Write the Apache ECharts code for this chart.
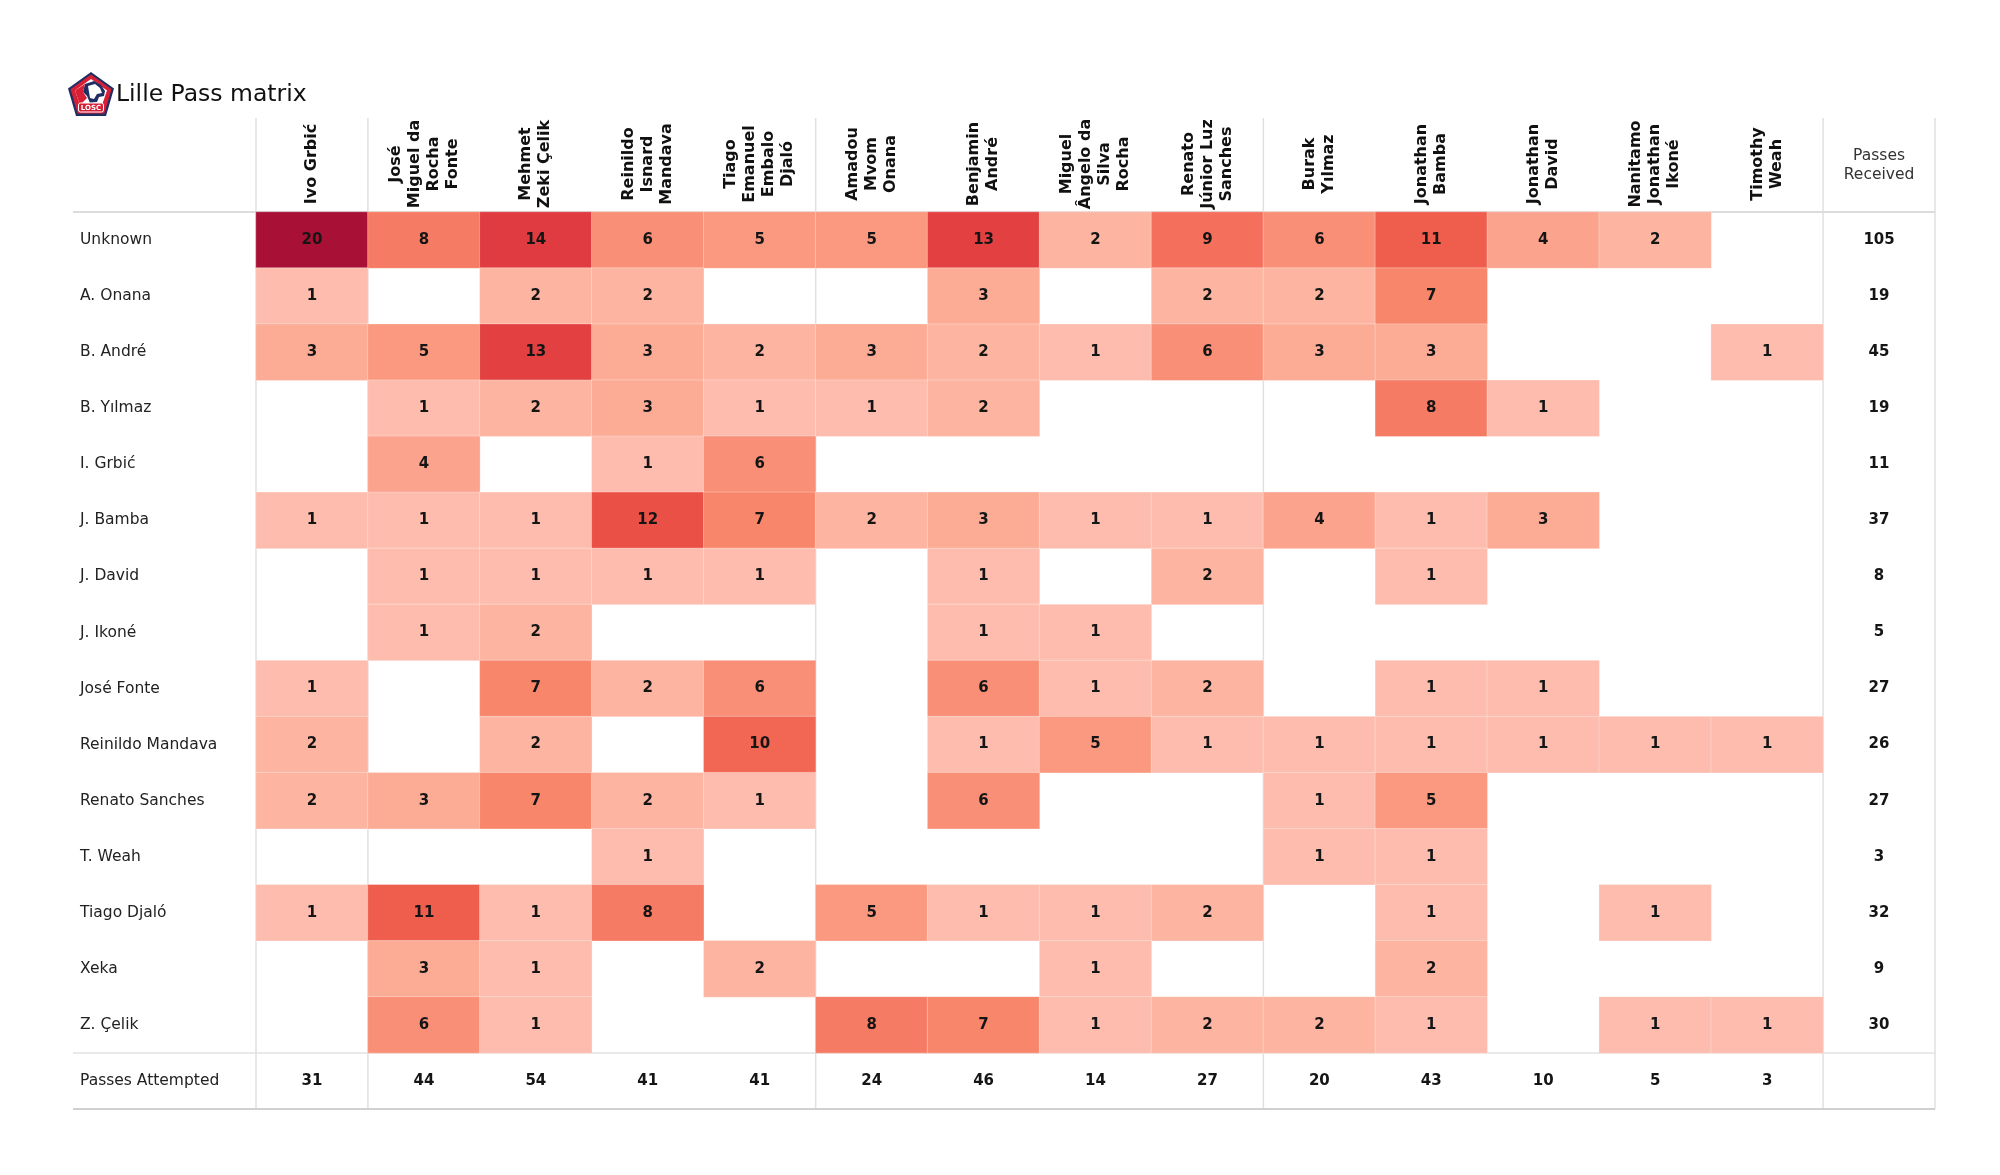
<!DOCTYPE html>
<html>
<head>
<meta charset="utf-8">
<script src="https://cdn.jsdelivr.net/npm/echarts@6/dist/echarts.min.js"></script>
<style>
html,body{margin:0;padding:0;background:#ffffff;}
#chart{width:2000px;height:1175px;}
</style>
</head>
<body>
<div id="chart"></div>
<script>
// ---------------- DATA ----------------
const chartTitle = 'Lille Pass matrix';

// rows (passer)
const passers = ['Unknown','A. Onana','B. André','B. Yılmaz','I. Grbić','J. Bamba','J. David','J. Ikoné',
  'José Fonte','Reinildo Mandava','Renato Sanches','T. Weah','Tiago Djaló','Xeka','Z. Çelik'];
const footerLabel = 'Passes Attempted';

// columns (receiver)
const receivers = ['Ivo Grbić','José\nMiguel da\nRocha\nFonte','Mehmet\nZeki Çelik','Reinildo\nIsnard\nMandava',
  'Tiago\nEmanuel\nEmbalo\nDjaló','Amadou\nMvom\nOnana','Benjamin\nAndré','Miguel\nÂngelo da\nSilva\nRocha',
  'Renato\nJúnior Luz\nSanches','Burak\nYılmaz','Jonathan\nBamba','Jonathan\nDavid','Nanitamo\nJonathan\nIkoné',
  'Timothy\nWeah'];
const totalHeader = 'Passes\nReceived';

// pass counts: row = passer, column = receiver (0 = empty cell)
const passCounts = [
  [20, 8,14, 6, 5, 5,13, 2, 9, 6,11, 4, 2, 0],
  [ 1, 0, 2, 2, 0, 0, 3, 0, 2, 2, 7, 0, 0, 0],
  [ 3, 5,13, 3, 2, 3, 2, 1, 6, 3, 3, 0, 0, 1],
  [ 0, 1, 2, 3, 1, 1, 2, 0, 0, 0, 8, 1, 0, 0],
  [ 0, 4, 0, 1, 6, 0, 0, 0, 0, 0, 0, 0, 0, 0],
  [ 1, 1, 1,12, 7, 2, 3, 1, 1, 4, 1, 3, 0, 0],
  [ 0, 1, 1, 1, 1, 0, 1, 0, 2, 0, 1, 0, 0, 0],
  [ 0, 1, 2, 0, 0, 0, 1, 1, 0, 0, 0, 0, 0, 0],
  [ 1, 0, 7, 2, 6, 0, 6, 1, 2, 0, 1, 1, 0, 0],
  [ 2, 0, 2, 0,10, 0, 1, 5, 1, 1, 1, 1, 1, 1],
  [ 2, 3, 7, 2, 1, 0, 6, 0, 0, 1, 5, 0, 0, 0],
  [ 0, 0, 0, 1, 0, 0, 0, 0, 0, 1, 1, 0, 0, 0],
  [ 1,11, 1, 8, 0, 5, 1, 1, 2, 0, 1, 0, 1, 0],
  [ 0, 3, 1, 0, 2, 0, 0, 1, 0, 0, 2, 0, 0, 0],
  [ 0, 6, 1, 0, 0, 8, 7, 1, 2, 2, 1, 0, 1, 1]
];
const passesReceived  = [105,19,45,19,11,37,8,5,27,26,27,3,32,9,30];
const passesAttempted = [31,44,54,41,41,24,46,14,27,20,43,10,5,3];

// colour ramp for values 1..20
const cellColors = ['#fdbcad','#fdb4a0','#fcab95','#fca38d','#fa997f','#f98f77','#f7866b','#f67b64','#f46f5c','#f26753',
  '#ef5d4d','#eb5047','#e34141','#e03b40','#d5323f','#ca293d','#be213b','#b41a39','#ae1537','#a91035'];

// ---------------- LAYOUT ----------------
const W = 2000, H = 1175;
const G = {left:256, top:212, right:65, bottom:66};
const nCols = receivers.length + 1, nRows = passers.length + 1;
const cellW = (W - G.left - G.right) / nCols;
const cellH = (H - G.top - G.bottom) / nRows;
const tableLeft = 73, headerTop = 118;
const FONT = 'DejaVu Sans';

const xCats = receivers.concat([totalHeader]);
const yCats = passers.concat([footerLabel]);

const cellData = [];
passCounts.forEach((row, i) => row.forEach((v, j) => { if (v > 0) cellData.push([j, i, v]); }));
const totalData = [];
passesReceived.forEach((v, i) => totalData.push([receivers.length, i, v]));
passesAttempted.forEach((v, j) => totalData.push([j, passers.length, v]));

// divider lines
const lineColor = '#e0e0e0';
const graphics = [];
const gx = k => G.left + k * cellW;
const gy = k => G.top + k * cellH;
[0, 1, 5, 9, 14, 15].forEach(k => graphics.push({
  type:'line', z:0, silent:true,
  shape:{x1:gx(k), y1:headerTop, x2:gx(k), y2:gy(nRows)},
  style:{stroke:lineColor, lineWidth:1.5}
}));
graphics.push({type:'line', z:0, silent:true, shape:{x1:tableLeft, y1:gy(0), x2:gx(nCols), y2:gy(0)}, style:{stroke:'#dcdcdc', lineWidth:2}});
graphics.push({type:'line', z:0, silent:true, shape:{x1:tableLeft, y1:gy(nRows-1), x2:gx(nCols), y2:gy(nRows-1)}, style:{stroke:'#e2e2e2', lineWidth:1.5}});
graphics.push({type:'line', z:0, silent:true, shape:{x1:tableLeft, y1:gy(nRows), x2:gx(nCols), y2:gy(nRows)}, style:{stroke:'#d0d0d0', lineWidth:2}});

// logo (LOSC-like badge)
graphics.push({
  type:'group', x:68, y:72, silent:true,
  children:[
    {type:'polygon', shape:{points:[[23,0],[46,16.5],[38,44],[8,44],[0,16.5]]}, style:{fill:'#1f2f63'}},
    {type:'polygon', shape:{points:[[23,2.5],[43.5,17.3],[36.3,41.5],[9.7,41.5],[2.5,17.3]]}, style:{fill:'#d71f35'}},
    {type:'polygon', shape:{points:[[23,7],[39,18.5],[34,33],[12,33],[7,18.5]]}, style:{fill:'#ffffff'}},
    {type:'polygon', shape:{points:[[17,12],[26,9],[33,13],[37,19],[36,24],[31,25],[29,30],[22,31],[19,24],[15,20]]}, style:{fill:'#1f2f63'}},
    {type:'polygon', shape:{points:[[20,14],[27,12],[32,16],[34,21],[29,22],[26,27],[22,26],[21,20]]}, style:{fill:'#ffffff'}},
    {type:'polygon', shape:{points:[[7,18.5],[17,12],[15,20],[19,26],[12,33]]}, style:{fill:'#d71f35'}},
    {type:'rect', shape:{x:10.5, y:31, width:25, height:9, r:2}, style:{fill:'#d71f35', stroke:'#ffffff', lineWidth:1}},
    {type:'text', style:{x:23, y:35.7, text:'LOSC', fill:'#ffffff', font:'bold 7px DejaVu Sans', align:'center', verticalAlign:'middle'}}
  ]
});

// ---------------- CHART ----------------
const chart = echarts.init(document.getElementById('chart'), null, {renderer:'canvas', width:W, height:H});
chart.setOption({
  backgroundColor:'#ffffff',
  animation:false,
  textStyle:{fontFamily:FONT},
  title:{
    text:chartTitle, left:116, top:80, padding:0, itemGap:0,
    textStyle:{fontFamily:FONT, fontSize:23.5, fontWeight:'normal', color:'#111111', lineHeight:30}
  },
  grid:{left:G.left, top:G.top, right:G.right, bottom:G.bottom, containLabel:false, outerBoundsMode:'none'},
  xAxis:[{
    type:'category', data:xCats, position:'top', gridIndex:0,
    axisLine:{show:false}, axisTick:{show:false}, splitLine:{show:false},
    axisLabel:{
      interval:0, rotate:-90, align:'center', verticalAlign:'middle', margin:48,
      fontFamily:FONT, fontSize:16, fontWeight:'bold', lineHeight:19, color:'#111111',
      formatter:(v, i) => i === receivers.length ? '' : v
    }
  },{
    type:'category', data:xCats, position:'top', gridIndex:0,
    axisLine:{show:false}, axisTick:{show:false}, splitLine:{show:false},
    axisLabel:{
      interval:0, rotate:0, align:'center', verticalAlign:'middle', margin:47,
      fontFamily:FONT, fontSize:15.5, fontWeight:'normal', lineHeight:19, color:'#333333',
      formatter:(v, i) => i === receivers.length ? v : ''
    }
  }],
  yAxis:{
    type:'category', data:yCats, inverse:true,
    axisLine:{show:false}, axisTick:{show:false}, splitLine:{show:false},
    axisLabel:{interval:0, align:'left', margin:G.left - 80, fontFamily:FONT, fontSize:15.5, color:'#222222'}
  },
  visualMap:{
    type:'continuous', show:false, seriesIndex:0, dimension:2, min:1, max:20,
    inRange:{color:cellColors}
  },
  series:[{
    type:'heatmap', xAxisIndex:0, yAxisIndex:0, data:cellData, z:2,
    itemStyle:{borderColor:'rgba(255,255,255,0.3)', borderWidth:1},
    label:{show:true, fontFamily:FONT, fontSize:15, fontWeight:'bold', color:'#151515'},
    emphasis:{disabled:true}
  },{
    type:'heatmap', xAxisIndex:0, yAxisIndex:0, data:totalData, z:2,
    itemStyle:{color:'rgba(255,255,255,0)'},
    label:{show:true, fontFamily:FONT, fontSize:15, fontWeight:'bold', color:'#151515'},
    emphasis:{disabled:true}
  }],
  graphic:graphics
});
</script>
</body>
</html>
